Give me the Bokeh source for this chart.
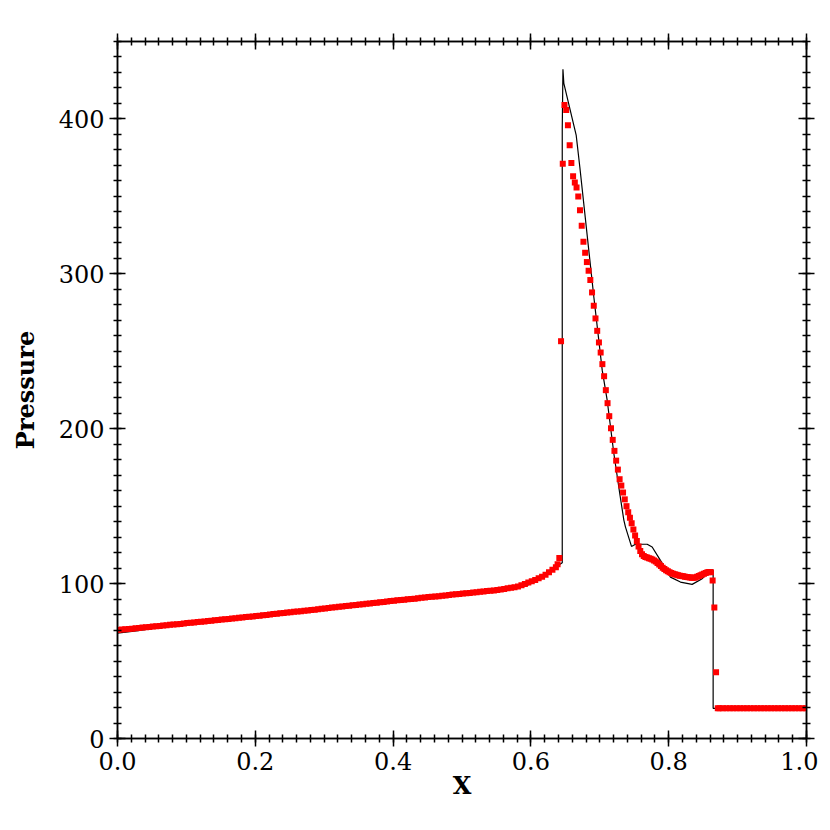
from bokeh.plotting import figure
from bokeh.models import (Range1d, LinearAxis, SingleIntervalTicker, PrintfTickFormatter,
                          CustomJSTickFormatter)
from bokeh.embed import file_html
from bokeh.resources import INLINE

# ---------------- data ----------------
# reference (exact) solution, black line
black_x = [0.0, 0.03, 0.1, 0.2, 0.3, 0.4, 0.5, 0.55, 0.58, 0.59, 0.6, 0.61, 0.62, 0.63, 0.64,
           0.6455, 0.6455, 0.6465, 0.6478, 0.6657, 0.671, 0.6913, 0.7035, 0.7107, 0.7204,
           0.729, 0.7349, 0.7373, 0.746, 0.7518, 0.7688, 0.776, 0.788, 0.8026, 0.817,
           0.834, 0.8486, 0.8607, 0.863, 0.8645, 0.8645, 1.0]
black_y = [68.0, 69.6, 74.3, 78.9, 83.8, 88.8, 93.4, 95.6, 97.0, 98.0, 100.0, 102.3, 105.0, 108.2, 111.8,
           113.5, 394.0, 432.0, 423.0, 389.6, 369.0, 285.2, 237.8, 218.4, 184.0,
           158.0, 141.0, 136.5, 124.0, 125.4, 125.4, 123.6, 115.0, 104.2, 101.0,
           99.5, 103.2, 108.6, 109.0, 108.5, 19.5, 19.5]

# numerical solution, red squares (cell centres)
red_x_smooth = [round(0.00125 + 0.005 * i, 5) for i in range(128)]
red_y_smooth = [
    70.1, 70.3, 70.5, 70.7, 70.9, 71.2, 71.4, 71.6, 71.8, 72.0,
    72.3, 72.5, 72.7, 72.9, 73.1, 73.4, 73.6, 73.8, 74.0, 74.2,
    74.5, 74.7, 74.9, 75.2, 75.4, 75.6, 75.8, 76.1, 76.3, 76.5,
    76.8, 77.0, 77.2, 77.4, 77.7, 77.9, 78.1, 78.4, 78.6, 78.8,
    79.1, 79.3, 79.5, 79.8, 80.0, 80.3, 80.5, 80.8, 81.0, 81.3,
    81.5, 81.8, 82.0, 82.2, 82.5, 82.7, 83.0, 83.2, 83.5, 83.7,
    84.0, 84.2, 84.5, 84.7, 85.0, 85.2, 85.5, 85.7, 86.0, 86.2,
    86.5, 86.7, 87.0, 87.2, 87.5, 87.7, 88.0, 88.2, 88.5, 88.7,
    89.0, 89.2, 89.4, 89.6, 89.9, 90.1, 90.3, 90.6, 90.8, 91.0,
    91.3, 91.5, 91.7, 91.9, 92.2, 92.4, 92.6, 92.9, 93.1, 93.3,
    93.6, 93.8, 94.0, 94.2, 94.5, 94.7, 94.9, 95.2, 95.4, 95.6,
    95.9, 96.2, 96.6, 97.0, 97.3, 97.7, 98.2, 99.0, 99.8, 100.7,
    101.5, 102.4, 103.4, 104.5, 105.8, 107.3, 108.9, 110.6]

red_x_shock = [round(0.63875 + 0.0025 * i, 5) for i in range(94)]
red_y_shock = [
    112.5, 116.5, 256.5, 371.0, 409.0, 405.8, 396.0, 383.0, 371.5, 363.0,
    359.0, 355.8, 350.0, 341.0, 331.0, 320.7, 313.6, 307.6, 302.0, 296.0,
    288.0, 279.4, 271.2, 263.2, 255.7, 249.2, 241.7, 233.9, 224.9, 216.5,
    208.1, 200.3, 192.8, 185.7, 179.4, 173.6, 167.4, 163.3, 158.8, 154.4,
    150.0, 146.0, 142.5, 139.0, 135.0, 131.0, 127.5, 124.0, 121.0, 119.0,
    117.8, 117.2, 116.8, 116.4, 116.0, 115.5, 115.0, 114.2, 113.3, 112.3,
    111.3, 110.3, 109.4, 108.6, 107.9, 107.3, 106.8, 106.4, 106.0, 105.7,
    105.4, 105.1, 104.9, 104.7, 104.5, 104.3, 104.1, 103.9, 103.8, 103.8,
    104.0, 104.4, 104.9, 105.4, 105.9, 106.4, 106.9, 107.3, 107.5, 107.4,
    102.0, 84.6, 42.8, 19.6]

red_x_tail = [round(0.87375 + 0.005 * i, 5) for i in range(26)]
red_y_tail = [19.5, 19.5, 19.5, 19.5, 19.5, 19.5, 19.5, 19.5, 19.5, 19.5,
              19.5, 19.5, 19.5, 19.5, 19.5, 19.5, 19.5, 19.5, 19.5, 19.5,
              19.5, 19.5, 19.5, 19.5, 19.5, 19.5]

red_x = red_x_smooth + red_x_shock + red_x_tail
red_y = red_y_smooth + red_y_shock + red_y_tail

x_label = "X"
y_label = "Pressure"

# ---------------- figure ----------------
FONT = "DejaVu Serif"

p = figure(frame_width=689, frame_height=697,
           x_range=Range1d(0, 1), y_range=Range1d(0, 450),
           output_backend="svg", toolbar_location=None,
           x_axis_location=None, y_axis_location=None,
           min_border_left=117, min_border_right=12,
           min_border_top=41, min_border_bottom=76,
           background_fill_color="white", border_fill_color="white")
p.grid.visible = False
p.outline_line_color = "black"
p.outline_line_width = 1.5


def style_axis(ax, show_labels):
    ax.axis_line_color = "black"
    ax.axis_line_width = 1.5
    ax.major_tick_line_color = "black"
    ax.major_tick_line_width = 1.5
    ax.minor_tick_line_color = "black"
    ax.minor_tick_line_width = 1.5
    ax.major_tick_in = 8
    ax.major_tick_out = 8
    ax.minor_tick_in = 4
    ax.minor_tick_out = 4
    if show_labels:
        ax.major_label_text_font = FONT
        ax.major_label_text_font_size = "24px"
        ax.major_label_text_color = "black"
        ax.axis_label_text_font = FONT
        ax.axis_label_text_font_style = "bold"
        ax.axis_label_text_font_size = "24px"
        ax.axis_label_text_color = "black"
    else:
        ax.major_label_standoff = 0


xb = LinearAxis(ticker=SingleIntervalTicker(interval=0.2, num_minor_ticks=10),
                formatter=PrintfTickFormatter(format="%.1f"), axis_label=x_label)
style_axis(xb, True)
xb.major_label_standoff = 5
xb.axis_label_standoff = -2
p.add_layout(xb, "below")

yl = LinearAxis(ticker=SingleIntervalTicker(interval=100, num_minor_ticks=10),
                axis_label=y_label)
style_axis(yl, True)
yl.major_label_standoff = 5
yl.axis_label_standoff = 16
p.add_layout(yl, "left")

blank = CustomJSTickFormatter(code="return ''")
xt = LinearAxis(ticker=SingleIntervalTicker(interval=0.2, num_minor_ticks=10), formatter=blank)
style_axis(xt, False)
p.add_layout(xt, "above")

yr = LinearAxis(ticker=SingleIntervalTicker(interval=100, num_minor_ticks=10), formatter=blank)
style_axis(yr, False)
p.add_layout(yr, "right")

p.line(black_x, black_y, line_color="black", line_width=1.2)
p.scatter(red_x, red_y, marker="square", size=6, fill_color="#ff0000", line_color=None)

open("out.html", "w").write(file_html(p, INLINE))
